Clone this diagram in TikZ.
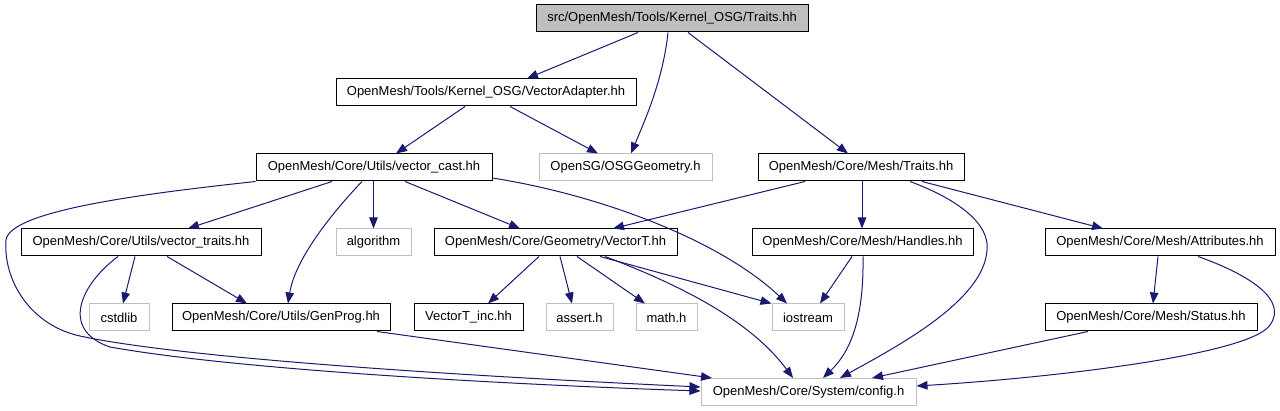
\documentclass[tikz,border=0pt]{standalone}
\usepackage{fontspec}
\setmainfont{Liberation Sans}
\usetikzlibrary{arrows.meta}
\definecolor{edgeblue}{HTML}{191970}
\definecolor{lgray}{HTML}{BFBFBF}
\begin{document}
\begin{tikzpicture}[x=1pt,y=-1pt,
  box/.style={draw=black,line width=1pt,fill=white,minimum height=27pt,inner sep=0pt,font=\fontsize{13}{15}\selectfont},
  sysbox/.style={box,draw=lgray},
  rootbox/.style={box,fill=lgray},
  e/.style={draw=edgeblue,line width=1pt,-{Triangle[length=11pt,width=8.5pt]}}]
\useasboundingbox (0,0) rectangle (1280,411);
% nodes
\node[rootbox,minimum width=272pt] (top) at (672,18.5) {src/OpenMesh/Tools/Kernel\_OSG/Traits.hh};
\node[box,minimum width=300pt] (va) at (486,92.5) {OpenMesh/Tools/Kernel\_OSG/VectorAdapter.hh};
\node[box,minimum width=236pt] (vc) at (374,167.5) {OpenMesh/Core/Utils/vector\_cast.hh};
\node[sysbox,minimum width=173pt] (osg) at (625.5,167.5) {OpenSG/OSGGeometry.h};
\node[box,minimum width=206pt] (mt) at (861,167.5) {OpenMesh/Core/Mesh/Traits.hh};
\node[box,minimum width=240pt] (vt) at (141,242.5) {OpenMesh/Core/Utils/vector\_traits.hh};
\node[sysbox,minimum width=75pt] (alg) at (373.5,242.5) {algorithm};
\node[box,minimum width=243pt] (vec) at (555.5,242.5) {OpenMesh/Core/Geometry/VectorT.hh};
\node[box,minimum width=221pt] (hd) at (862.5,242.5) {OpenMesh/Core/Mesh/Handles.hh};
\node[box,minimum width=230pt] (at) at (1160,242.5) {OpenMesh/Core/Mesh/Attributes.hh};
\node[sysbox,minimum width=60pt] (cs) at (119,317.5) {cstdlib};
\node[box,minimum width=218pt] (gp) at (281,317.5) {OpenMesh/Core/Utils/GenProg.hh};
\node[box,minimum width=109pt] (vinc) at (468.5,317.5) {VectorT\_inc.hh};
\node[sysbox,minimum width=67pt] (as) at (579.5,317.5) {assert.h};
\node[sysbox,minimum width=61pt] (mh) at (666.5,317.5) {math.h};
\node[sysbox,minimum width=72pt] (io) at (808,317.5) {iostream};
\node[box,minimum width=212pt] (st) at (1151,317.5) {OpenMesh/Core/Mesh/Status.hh};
\node[sysbox,minimum width=215pt] (cfg) at (808.5,392) {OpenMesh/Core/System/config.h};
% edges
\draw[e] (top.south -| 638,0) -- (va.north -| 527,0);
\draw[e] (top.south -| 668,0) .. controls (663,80) and (645,120) .. (osg.north -| 631,0);
\draw[e] (top.south -| 688,0) -- (mt.north -| 848,0);
\draw[e] (va.south -| 465,0) -- (vc.north -| 396,0);
\draw[e] (va.south -| 510,0) -- (osg.north -| 598,0);
\draw[e] (vc.south -| 332,0) -- (vt.north -| 188,0);
\draw[e] (vc.south -| 373.5,0) -- (alg.north);
\draw[e] (vc.south -| 405,0) -- (vec.north -| 520,0);
\draw[e] (vc.south -| 362,0) .. controls (330,215) and (295,260) .. (gp.north -| 288,0);
\draw[e] (vc.east |- 0,178) .. controls (600,195) and (720,240) .. (io.north -| 787,0);
\draw[e] (vc.south west) .. controls (150,193) and (10,210) .. (6,240)
  .. controls (3,280) and (30,325) .. (80,336)
  .. controls (200,362) and (550,380) .. (cfg.west |- 0,387);
\draw[e] (vt.south -| 135,0) -- (cs.north -| 123,0);
\draw[e] (vt.south -| 167,0) -- (gp.north -| 247,0);
\draw[e] (vt.south -| 118,0) .. controls (80,285) and (60,330) .. (110,347)
  .. controls (250,372) and (550,386) .. (cfg.west |- 0,391);
\draw[e] (gp.south -| 377,0) -- (cfg.north -| 712,0);
\draw[e] (vec.south -| 539,0) -- (vinc.north -| 488,0);
\draw[e] (vec.south -| 560,0) -- (as.north -| 572,0);
\draw[e] (vec.south -| 577,0) -- (mh.north -| 645,0);
\draw[e] (vec.south -| 600,0) -- (io.north west);
\draw[e] (vec.south -| 605,0) .. controls (680,285) and (750,320) .. (cfg.north -| 793,0);
\draw[e] (mt.south -| 805,0) -- (vec.north -| 613,0);
\draw[e] (mt.south -| 862,0) -- (hd.north -| 862,0);
\draw[e] (mt.south -| 922,0) -- (at.north -| 1103,0);
\draw[e] (mt.south -| 910,0) .. controls (960,200) and (990,225) .. (987,250)
  .. controls (984,300) and (900,345) .. (cfg.north -| 840,0);
\draw[e] (hd.south -| 852,0) -- (io.north -| 820,0);
\draw[e] (hd.south -| 863,0) .. controls (864,320) and (850,352) .. (cfg.north -| 823,0);
\draw[e] (at.south -| 1158,0) -- (st.north -| 1153,0);
\draw[e] (at.south -| 1198,0) .. controls (1250,275) and (1288,300) .. (1270,325)
  .. controls (1250,355) and (1050,378) .. (cfg.east |- 0,386);
\draw[e] (st.south -| 1088,0) -- (cfg.north -| 872,0);
\end{tikzpicture}
\end{document}
